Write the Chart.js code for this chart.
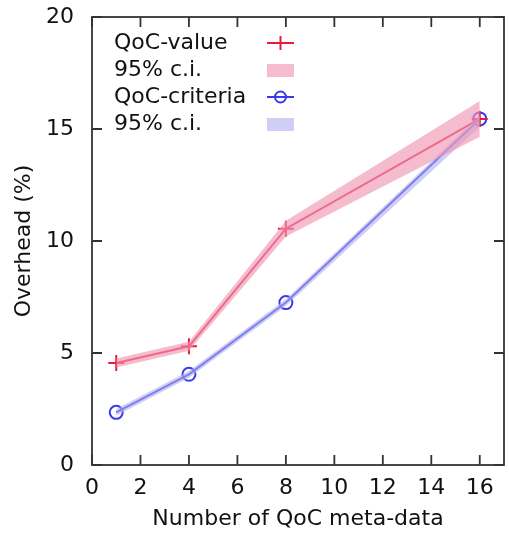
<!DOCTYPE html>
<html lang="en">
<head>
    <meta charset="UTF-8">
    <script src="https://cdn.jsdelivr.net/npm/chart.js"></script>
    <title>Overhead vs QoC meta-data</title>
    <style>
        html, body { margin: 0; padding: 0; background: #fff; overflow: hidden; }
        #wrap { width: 509px; height: 536px; }
        canvas { display: block; }
    </style>
</head>
<body>
    <div id="wrap"><canvas id="overheadChart" width="509" height="536"></canvas></div>

    <script>
        // values
        const metaData = [1, 4, 8, 16];
        const valueMean = [4.55, 5.3, 10.55, 15.45];
        const valueLow = [4.35, 5.1, 10.2, 14.65];
        const valueHigh = [4.75, 5.5, 10.9, 16.25];
        const criteriaMean = [2.35, 4.05, 7.25, 15.45];
        const criteriaLow = [2.2, 3.9, 7.1, 15.1];
        const criteriaHigh = [2.5, 4.2, 7.4, 15.6];
        const xTicks = [0, 2, 4, 6, 8, 10, 12, 14, 16];
        const yTicks = [0, 5, 10, 15, 20];

        const red = 'rgb(232, 28, 58)';
        const pink = 'rgba(240, 150, 180, 0.65)';
        const blue = 'rgb(58, 58, 232)';
        const lavender = 'rgba(175, 175, 240, 0.6)';
        const font = 'DejaVu Sans';
        const ink = '#111';

        const pts = ys => metaData.map((x, i) => ({ x: x, y: ys[i] }));

        // frame with inward ticks on all sides + legend
        const framePlugin = {
            id: 'frame',
            afterDraw(chart) {
                const ctx = chart.ctx, a = chart.chartArea;
                const xs = chart.scales.x, ys = chart.scales.y;
                ctx.save();
                ctx.strokeStyle = '#333';
                ctx.lineWidth = 1.8;
                ctx.strokeRect(a.left, a.top, a.right - a.left, a.bottom - a.top);
                ctx.beginPath();
                xs.ticks.forEach(t => {
                    const px = xs.getPixelForValue(t.value);
                    ctx.moveTo(px, a.bottom); ctx.lineTo(px, a.bottom - 10);
                    ctx.moveTo(px, a.top); ctx.lineTo(px, a.top + 10);
                });
                ys.ticks.forEach(t => {
                    const py = ys.getPixelForValue(t.value);
                    ctx.moveTo(a.left, py); ctx.lineTo(a.left + 10, py);
                    ctx.moveTo(a.right, py); ctx.lineTo(a.right - 10, py);
                });
                ctx.stroke();

                // legend
                const rows = [
                    { text: 'QoC-value', kind: 'cross', color: red },
                    { text: '95% c.i.', kind: 'box', color: pink },
                    { text: 'QoC-criteria', kind: 'circle', color: blue },
                    { text: '95% c.i.', kind: 'box', color: lavender }
                ];
                ctx.font = '22px "' + font + '"';
                ctx.textBaseline = 'middle';
                rows.forEach((r, i) => {
                    const y = 43 + i * 27;
                    ctx.fillStyle = ink;
                    ctx.fillText(r.text, 114, y);
                    const x0 = 267, x1 = 294, cx = 280.5;
                    if (r.kind === 'box') {
                        ctx.fillStyle = r.color;
                        ctx.fillRect(x0, y - 6, x1 - x0, 13);
                    } else {
                        ctx.strokeStyle = r.color;
                        ctx.lineWidth = 2;
                        ctx.beginPath();
                        ctx.moveTo(x0, y); ctx.lineTo(x1, y);
                        if (r.kind === 'cross') {
                            ctx.moveTo(cx, y - 7); ctx.lineTo(cx, y + 7);
                        }
                        ctx.stroke();
                        if (r.kind === 'circle') {
                            ctx.beginPath();
                            ctx.arc(cx, y, 5.5, 0, Math.PI * 2);
                            ctx.stroke();
                        }
                    }
                });
                ctx.restore();
            }
        };

        new Chart(document.getElementById('overheadChart'), {
            type: 'line',
            data: {
                datasets: [
                    { data: pts(valueLow), borderWidth: 0, pointRadius: 0, fill: false },
                    { data: pts(valueHigh), borderWidth: 0, pointRadius: 0, fill: '-1', backgroundColor: pink },
                    { data: pts(criteriaLow), borderWidth: 0, pointRadius: 0, fill: false },
                    { data: pts(criteriaHigh), borderWidth: 0, pointRadius: 0, fill: '-1', backgroundColor: lavender },
                    {
                        data: pts(valueMean), borderColor: red, borderWidth: 2, fill: false,
                        pointStyle: 'cross', pointRadius: 8, pointBorderColor: red, pointBorderWidth: 2
                    },
                    {
                        data: pts(criteriaMean), borderColor: blue, borderWidth: 2, fill: false,
                        pointStyle: 'circle', pointRadius: 6.5, pointBorderColor: blue, pointBorderWidth: 2,
                        pointBackgroundColor: 'rgba(0,0,0,0)'
                    }
                ]
            },
            options: {
                responsive: false,
                animation: false,
                layout: { autoPadding: false, padding: { top: 17, right: 5, left: 0, bottom: 0 } },
                plugins: { legend: { display: false }, tooltip: { enabled: false } },
                scales: {
                    x: {
                        type: 'linear', min: 0, max: 17,
                        afterBuildTicks: s => { s.ticks = xTicks.map(v => ({ value: v })); },
                        afterFit: s => { s.height = 71; s.paddingLeft = 0; s.paddingRight = 0; },
                        grid: { display: false }, border: { display: false },
                        ticks: { padding: 2, color: ink, font: { family: font, size: 22 } },
                        title: { display: true, text: 'Number of QoC meta-data', color: ink, padding: { top: 10 }, font: { family: font, size: 22 } }
                    },
                    y: {
                        min: 0, max: 20,
                        afterBuildTicks: s => { s.ticks = yTicks.map(v => ({ value: v })); },
                        afterFit: s => { s.width = 92; s.paddingTop = 0; s.paddingBottom = 0; },
                        grid: { display: false }, border: { display: false },
                        ticks: { padding: 10, color: ink, font: { family: font, size: 22 } },
                        title: { display: true, text: 'Overhead (%)', color: ink, padding: { top: 11, bottom: 0 }, font: { family: font, size: 22 } }
                    }
                }
            },
            plugins: [framePlugin]
        });
    </script>
</body>
</html>
